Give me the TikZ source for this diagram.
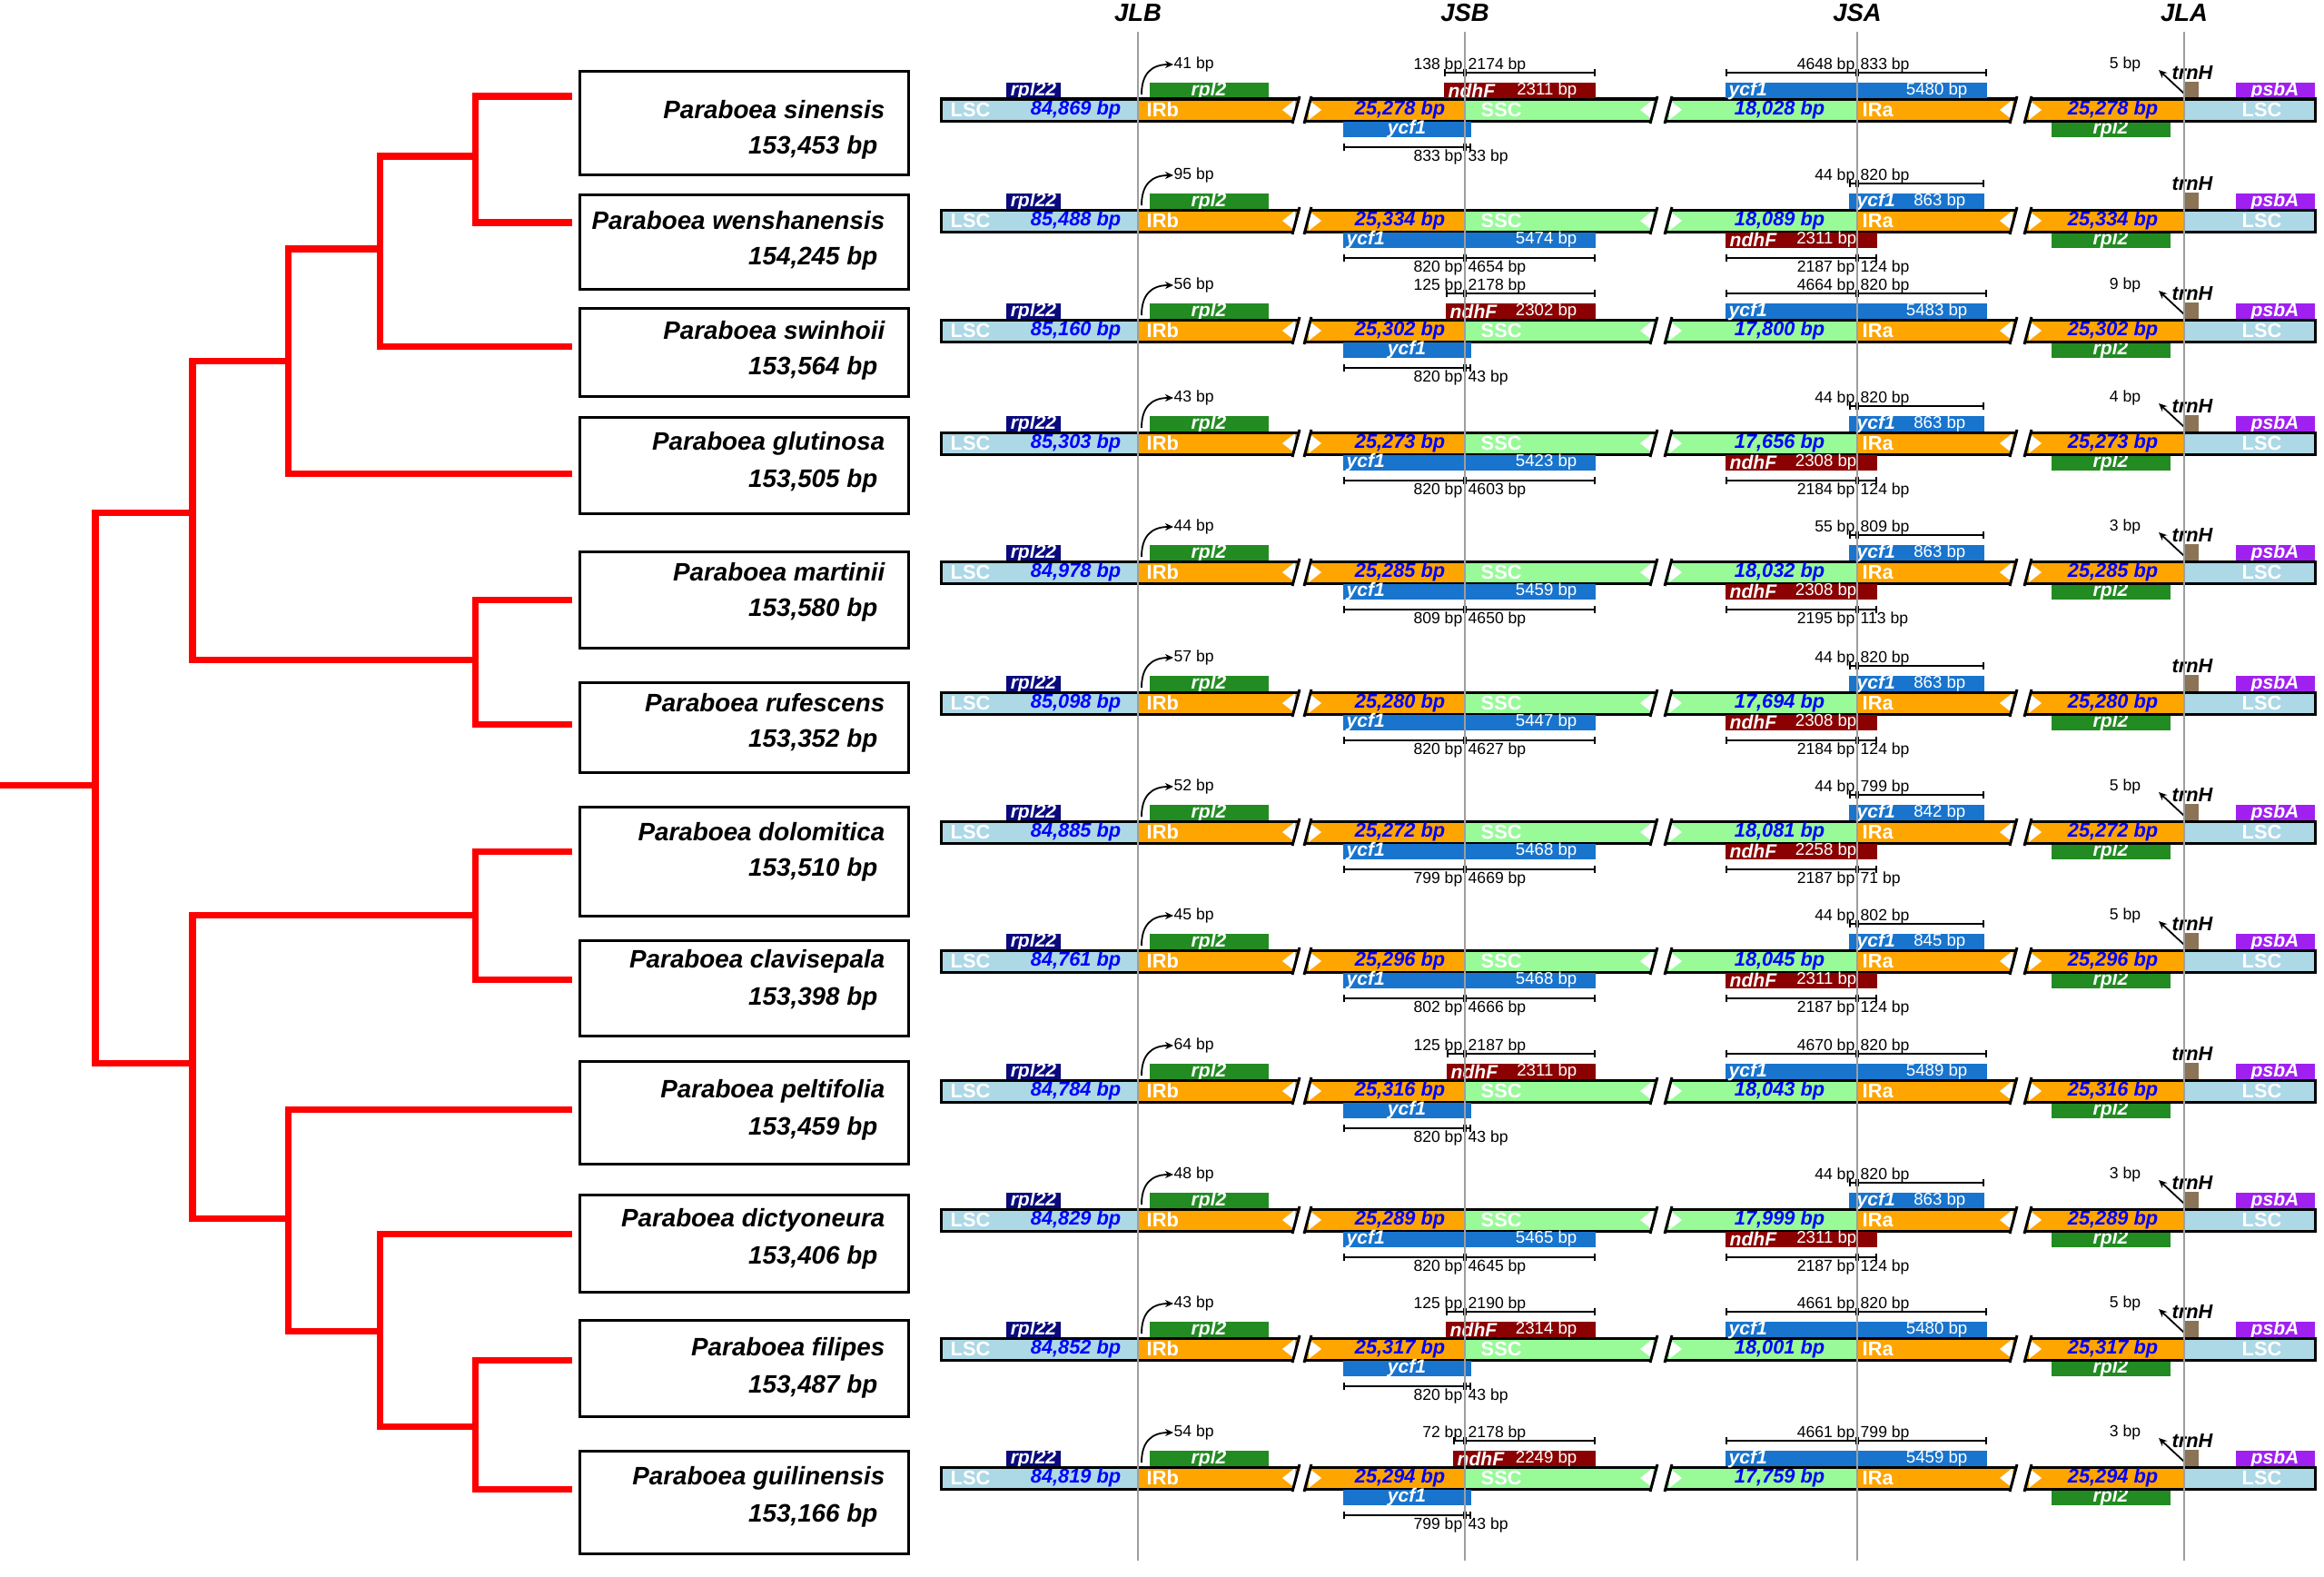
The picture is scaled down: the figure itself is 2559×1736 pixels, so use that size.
\documentclass[tikz,border=0pt]{standalone}
\usepackage{fontspec}
\setmainfont{Liberation Sans}
\usetikzlibrary{arrows.meta,positioning}

\definecolor{treered}{RGB}{255,0,0}
\definecolor{lscblue}{RGB}{173,216,230}
\definecolor{irorange}{RGB}{255,165,0}
\definecolor{sscgreen}{RGB}{152,251,152}
\definecolor{rplnavy}{RGB}{10,10,125}
\definecolor{rplgreen}{RGB}{34,139,34}
\definecolor{ndhred}{RGB}{139,0,0}
\definecolor{ycfblue}{RGB}{24,116,205}
\definecolor{trnbrown}{RGB}{139,115,85}
\definecolor{psbpurple}{RGB}{160,32,240}
\definecolor{bpblue}{RGB}{0,0,255}

\newcommand\fsz[1]{\fontsize{#1pt}{#1pt}\selectfont}

\tikzset{
  branch/.style={draw=treered, line width=0.7mm, line join=miter},
  taxon/.style={draw, line width=0.25mm, minimum width=3.62cm, anchor=north west, inner sep=0pt},
  spname/.style={font=\fsz{7.9}\bfseries\itshape, inner sep=0pt},
  title/.style={font=\fsz{7.8}\bfseries\itshape, inner sep=0pt},
  region/.style={text=white, font=\fsz{6.2}\bfseries, inner sep=0pt},
  regionlen/.style={text=bpblue, font=\fsz{6.2}\bfseries\itshape, inner sep=0pt},
  genelab/.style={text=white, font=\fsz{6}\bfseries\itshape, inner sep=0pt},
  genelen/.style={text=white, font=\fsz{5.3}, inner sep=0pt},
  measlab/.style={font=\fsz{5}, inner sep=0pt},
  trnlab/.style={font=\fsz{6.2}\bfseries\itshape, inner sep=0pt},
  measure/.style={{Bar[width=0.8mm]}-{Bar[width=0.8mm]}, line width=0.18mm},
  bent/.style={-{Stealth[length=0.9mm,width=0.8mm]}, line width=0.18mm},
  junction/.style={draw=black!38, line width=0.2mm},
  barline/.style={line width=0.3mm},
}

% taxon box: epithet, top, height, row y, size
\newcommand\taxon[5]{%
  \node[taxon, minimum height=#3cm] (#1) at (637,#2) {};
  \node[spname, anchor=east] (#1name) at (975,#4) {Paraboea #1};
  \node[spname, anchor=east] (#1size) at (967,#4+41) {#5 bp};
}

% one genome map: row y, LSC, IR, SSC, bp at JLB
\newcommand\maprow[5]{%
  \def\yc{#1}%
  \fill[rplnavy] (1108,\yc-30) rectangle (1168,\yc-13);
  \fill[rplgreen] (1266,\yc-30) rectangle (1397,\yc-13);
  \fill[rplgreen] (2259,\yc+13) rectangle (2390,\yc+30);
  \fill[trnbrown] (2405,\yc-31) rectangle (2421,\yc-13);
  \fill[psbpurple] (2462,\yc-30) rectangle (2549,\yc-13);
  \node[genelab] (rpl22) at (1138,\yc-21) {rpl22};
  \node[genelab] (rpl2b) at (1331,\yc-21) {rpl2};
  \node[genelab] (rpl2a) at (2324,\yc+21) {rpl2};
  \node[genelab] (psbA) at (2505,\yc-21) {psbA};
  \node[trnlab] (trnH) at (2414,\yc-41) {trnH};
  % regions
  \fill[lscblue]  (1036,\yc-12) rectangle (1253,\yc+12);
  \fill[irorange] (1253,\yc-12) rectangle (1431,\yc+12);
  \fill[irorange] (1436,\yc-12) rectangle (1613,\yc+12);
  \fill[sscgreen] (1613,\yc-12) rectangle (1825,\yc+12);
  \fill[sscgreen] (1833,\yc-12) rectangle (2045,\yc+12);
  \fill[irorange] (2045,\yc-12) rectangle (2221,\yc+12);
  \fill[irorange] (2229,\yc-12) rectangle (2405,\yc+12);
  \fill[lscblue]  (2405,\yc-12) rectangle (2549,\yc+12);
  \foreach \e/\s in {1427/1440,1821/1837,2217/2233}{
    \fill[white] (\e-4,\yc+15) -- (\e+4,\yc-15) -- (\s+4,\yc-15) -- (\s-4,\yc+15) -- cycle;
    \fill[white] (\e-1,\yc-11) -- (\e-1,\yc+11) -- (\e-15,\yc) -- cycle;
    \fill[white] (\s+1,\yc-11) -- (\s+1,\yc+11) -- (\s+15,\yc) -- cycle;
    \draw[barline] (\e-4,\yc+15) -- (\e+4,\yc-15) (\s-4,\yc+15) -- (\s+4,\yc-15);
  }
  \draw[barline] (1430,\yc-12) -- (1036,\yc-12) -- (1036,\yc+12) -- (1424,\yc+12)
    (1443,\yc-12) -- (1824,\yc-12) (1437,\yc+12) -- (1818,\yc+12)
    (1840,\yc-12) -- (2220,\yc-12) (1834,\yc+12) -- (2214,\yc+12)
    (2236,\yc-12) -- (2549,\yc-12) -- (2549,\yc+12) -- (2230,\yc+12);
  \node[region, anchor=west] (lscl) at (1046,\yc) {LSC};
  \node[regionlen, anchor=east] (lsclen) at (1235,\yc) {#2};
  \node[region, anchor=west] (irb) at (1262,\yc) {IRb};
  \node[regionlen, anchor=east] (irblen) at (1592,\yc) {#3};
  \node[region, anchor=west] (ssc) at (1630,\yc) {SSC};
  \node[regionlen, anchor=east] (ssclen) at (2010,\yc) {#4};
  \node[region, anchor=west] (ira) at (2050,\yc) {IRa};
  \node[regionlen, anchor=east] (iralen) at (2377,\yc) {#3};
  \node[region, anchor=west] (lscr) at (2468,\yc) {LSC};
  \node[measlab, anchor=west] (jlbbp) at (1292,\yc-50) {#5};
  \draw[bent] (1257,\yc-17) .. controls (1257,\yc-40) and (1268,\yc-50) .. (jlbbp.west);
}

% ndhF above JSB, short ycf1 below JSB, long ycf1 above JSA
\newcommand\typeA[9]{%
  \fill[ndhred] (#1,\yc-30) rectangle (1757,\yc-13);
  \node[genelab, anchor=west] (ndhF) at (#1+4,\yc-21) {ndhF};
  \node[genelen, anchor=east] (ndhFlen) at (1737,\yc-21) {#2};
  \draw[measure] (#1,\yc-41) -- (1613,\yc-41);
  \draw[measure] (1613,\yc-41) -- (1757,\yc-41);
  \node[measlab, anchor=east] (ml) at (1611,\yc-49) {#3};
  \node[measlab, anchor=west] (mr) at (1616,\yc-49) {#4};
  \fill[ycfblue] (1479,\yc+13) rectangle (1620,\yc+30);
  \node[genelab] (ycfb) at (1549,\yc+21) {ycf1};
  \draw[measure] (1479,\yc+41) -- (1613,\yc+41);
  \draw[measure] (1613,\yc+41) -- (1620,\yc+41);
  \node[measlab, anchor=east] (bl) at (1611,\yc+52) {#5};
  \node[measlab, anchor=west] (br) at (1616,\yc+52) {#6};
  \fill[ycfblue] (1900,\yc-30) rectangle (2188,\yc-13);
  \node[genelab, anchor=west] (ycfa) at (1903,\yc-21) {ycf1};
  \node[genelen, anchor=east] (ycfalen) at (2167,\yc-21) {#7};
  \draw[measure] (1900,\yc-41) -- (2045,\yc-41);
  \draw[measure] (2045,\yc-41) -- (2188,\yc-41);
  \node[measlab, anchor=east] (al) at (2043,\yc-49) {#8};
  \node[measlab, anchor=west] (ar) at (2048,\yc-49) {#9};
}

% long ycf1 below JSB, short ycf1 above JSA, ndhF below JSA
\newcommand\typeB[9]{%
  \fill[ycfblue] (1479,\yc+13) rectangle (1757,\yc+30);
  \node[genelab, anchor=west] (ycfb) at (1482,\yc+21) {ycf1};
  \node[genelen, anchor=east] (ycfblen) at (1737,\yc+21) {#1};
  \draw[measure] (1479,\yc+41) -- (1613,\yc+41);
  \draw[measure] (1613,\yc+41) -- (1757,\yc+41);
  \node[measlab, anchor=east] (bl) at (1611,\yc+52) {#2};
  \node[measlab, anchor=west] (br) at (1616,\yc+52) {#3};
  \fill[ycfblue] (2036,\yc-30) rectangle (2185,\yc-13);
  \node[genelab, anchor=west] (ycfa) at (2044,\yc-21) {ycf1};
  \node[genelen, anchor=east] (ycfalen) at (2165,\yc-21) {#4};
  \draw[measure] (2036,\yc-41) -- (2045,\yc-41);
  \draw[measure] (2045,\yc-41) -- (2185,\yc-41);
  \node[measlab, anchor=east] (al) at (2043,\yc-49) {#5};
  \node[measlab, anchor=west] (ar) at (2048,\yc-49) {#6};
  \fill[ndhred] (1900,\yc+13) rectangle (2067,\yc+30);
  \node[genelab, anchor=west] (ndhF) at (1904,\yc+21) {ndhF};
  \node[genelen, anchor=east] (ndhFlen) at (2045,\yc+21) {#7};
  \draw[measure] (1900,\yc+41) -- (2045,\yc+41);
  \draw[measure] (2045,\yc+41) -- (2067,\yc+41);
  \node[measlab, anchor=east] (nl) at (2043,\yc+52) {#8};
  \node[measlab, anchor=west] (nr) at (2048,\yc+52) {#9};
}

\newcommand\trnharrow[1]{%
  \node[measlab] (trnbp) at (2340,\yc-50) {#1};
  \draw[bent] (2405,\yc-18) -- (2377,\yc-44);
}

\begin{document}
\begin{tikzpicture}[x=0.01cm, y=-0.01cm]
  \useasboundingbox (0,0) rectangle (2559,1736);

  % tree
  \coordinate (stem) at (0,864);
  \coordinate (root) at (105,864);
  \coordinate (up) at (212,564);
  \coordinate (lo) at (212,1170);
  \coordinate (c1234) at (317,397);
  \coordinate (c123) at (418,274);
  \coordinate (c12) at (523,172);
  \coordinate (c56) at (523,726);
  \coordinate (c78) at (523,1007);
  \coordinate (c912) at (317,1341);
  \coordinate (c1012) at (418,1465);
  \coordinate (c1112) at (523,1570);
  \coordinate (t1) at (630,106);
  \coordinate (t2) at (630,245);
  \coordinate (t3) at (630,381);
  \coordinate (t4) at (630,521);
  \coordinate (t5) at (630,660);
  \coordinate (t6) at (630,797);
  \coordinate (t7) at (630,937);
  \coordinate (t8) at (630,1078);
  \coordinate (t9) at (630,1221);
  \coordinate (t10) at (630,1358);
  \coordinate (t11) at (630,1497);
  \coordinate (t12) at (630,1639);
  \draw[branch] (stem) -- (root)
    (root) |- (up) (root) |- (lo)
    (up) |- (c1234) (up) |- (c56)
    (c1234) |- (c123) (c1234) |- (t4)
    (c123) |- (c12) (c123) |- (t3)
    (c12) |- (t1) (c12) |- (t2)
    (c56) |- (t5) (c56) |- (t6)
    (lo) |- (c78) (lo) |- (c912)
    (c78) |- (t7) (c78) |- (t8)
    (c912) |- (t9) (c912) |- (c1012)
    (c1012) |- (t10) (c1012) |- (c1112)
    (c1112) |- (t11) (c1112) |- (t12);

  \taxon{sinensis}{77}{1.14}{121}{153,453}
  \taxon{wenshanensis}{213}{1.04}{243}{154,245}
  \taxon{swinhoii}{338}{0.97}{364}{153,564}
  \taxon{glutinosa}{458}{1.06}{488}{153,505}
  \taxon{martinii}{606}{1.06}{630}{153,580}
  \taxon{rufescens}{750}{0.99}{774}{153,352}
  \taxon{dolomitica}{887}{1.20}{916}{153,510}
  \taxon{clavisepala}{1034}{1.05}{1058}{153,398}
  \taxon{peltifolia}{1167}{1.13}{1201}{153,459}
  \taxon{dictyoneura}{1314}{1.07}{1343}{153,406}
  \taxon{filipes}{1452}{1.06}{1485}{153,487}
  \taxon{guilinensis}{1596}{1.13}{1627}{153,166}

  % junction titles
  \node[title] (JLB) at (1253,14) {JLB};
  \node[title] (JSB) at (1613,14) {JSB};
  \node[title] (JSA) at (2045,14) {JSA};
  \node[title] (JLA) at (2405,14) {JLA};

  \maprow{121}{84,869 bp}{25,278 bp}{18,028 bp}{41 bp}
  \typeA{1590}{2311 bp}{138 bp}{2174 bp}{833 bp}{33 bp}{5480 bp}{4648 bp}{833 bp}
  \trnharrow{5 bp}

  \maprow{243}{85,488 bp}{25,334 bp}{18,089 bp}{95 bp}
  \typeB{5474 bp}{820 bp}{4654 bp}{863 bp}{44 bp}{820 bp}{2311 bp}{2187 bp}{124 bp}

  \maprow{364}{85,160 bp}{25,302 bp}{17,800 bp}{56 bp}
  \typeA{1592}{2302 bp}{125 bp}{2178 bp}{820 bp}{43 bp}{5483 bp}{4664 bp}{820 bp}
  \trnharrow{9 bp}

  \maprow{488}{85,303 bp}{25,273 bp}{17,656 bp}{43 bp}
  \typeB{5423 bp}{820 bp}{4603 bp}{863 bp}{44 bp}{820 bp}{2308 bp}{2184 bp}{124 bp}
  \trnharrow{4 bp}

  \maprow{630}{84,978 bp}{25,285 bp}{18,032 bp}{44 bp}
  \typeB{5459 bp}{809 bp}{4650 bp}{863 bp}{55 bp}{809 bp}{2308 bp}{2195 bp}{113 bp}
  \trnharrow{3 bp}

  \maprow{774}{85,098 bp}{25,280 bp}{17,694 bp}{57 bp}
  \typeB{5447 bp}{820 bp}{4627 bp}{863 bp}{44 bp}{820 bp}{2308 bp}{2184 bp}{124 bp}

  \maprow{916}{84,885 bp}{25,272 bp}{18,081 bp}{52 bp}
  \typeB{5468 bp}{799 bp}{4669 bp}{842 bp}{44 bp}{799 bp}{2258 bp}{2187 bp}{71 bp}
  \trnharrow{5 bp}

  \maprow{1058}{84,761 bp}{25,296 bp}{18,045 bp}{45 bp}
  \typeB{5468 bp}{802 bp}{4666 bp}{845 bp}{44 bp}{802 bp}{2311 bp}{2187 bp}{124 bp}
  \trnharrow{5 bp}

  \maprow{1201}{84,784 bp}{25,316 bp}{18,043 bp}{64 bp}
  \typeA{1593}{2311 bp}{125 bp}{2187 bp}{820 bp}{43 bp}{5489 bp}{4670 bp}{820 bp}

  \maprow{1343}{84,829 bp}{25,289 bp}{17,999 bp}{48 bp}
  \typeB{5465 bp}{820 bp}{4645 bp}{863 bp}{44 bp}{820 bp}{2311 bp}{2187 bp}{124 bp}
  \trnharrow{3 bp}

  \maprow{1485}{84,852 bp}{25,317 bp}{18,001 bp}{43 bp}
  \typeA{1592}{2314 bp}{125 bp}{2190 bp}{820 bp}{43 bp}{5480 bp}{4661 bp}{820 bp}
  \trnharrow{5 bp}

  \maprow{1627}{84,819 bp}{25,294 bp}{17,759 bp}{54 bp}
  \typeA{1600}{2249 bp}{72 bp}{2178 bp}{799 bp}{43 bp}{5459 bp}{4661 bp}{799 bp}
  \trnharrow{3 bp}

  % junction lines
  \draw[junction] (JLB) ++(0,21) -- ++(0,1683);
  \draw[junction] (JSB) ++(0,21) -- ++(0,1683);
  \draw[junction] (JSA) ++(0,21) -- ++(0,1683);
  \draw[junction] (JLA) ++(0,21) -- ++(0,1683);
\end{tikzpicture}
\end{document}
